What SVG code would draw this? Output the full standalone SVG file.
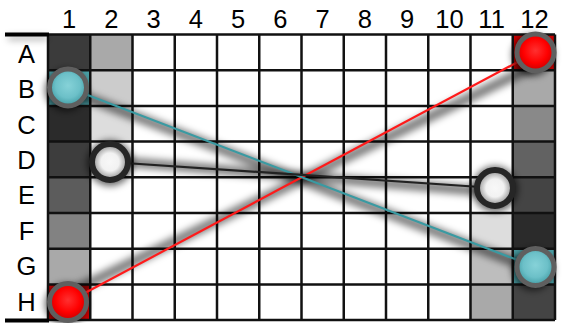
<svg xmlns="http://www.w3.org/2000/svg" width="562" height="323" viewBox="0 0 562 323">
<defs>
<style>
.lbl{font-family:"Liberation Sans",Arial,sans-serif;font-size:25.5px;fill:#000;text-anchor:middle}
.grid{fill:none;stroke:#111;stroke-width:2.5}
.sh{fill:none;stroke:#000;stroke-width:10;stroke-opacity:0.5;stroke-linecap:round}
.csh{fill:#000;fill-opacity:0.6}
.ring{stroke:#5f5f5f;stroke-width:5}
.wring{stroke:#262626;stroke-width:6}
.ln{fill:none;stroke-width:2.2}
</style>
<filter id="blur" filterUnits="userSpaceOnUse" x="0" y="0" width="562" height="323"><feGaussianBlur stdDeviation="3.5"/></filter>
<radialGradient id="gRed" cx="50%" cy="45%" r="55%"><stop offset="0" stop-color="#ff3030"/><stop offset="0.6" stop-color="#ff0000"/><stop offset="1" stop-color="#c80000"/></radialGradient>
<radialGradient id="gTeal" cx="50%" cy="45%" r="55%"><stop offset="0" stop-color="#86d2d8"/><stop offset="0.6" stop-color="#6cc0c8"/><stop offset="1" stop-color="#3f9aa2"/></radialGradient>
<radialGradient id="gWhite" cx="50%" cy="50%" r="50%"><stop offset="0" stop-color="#f8f8f8"/><stop offset="0.5" stop-color="#f2f2f2"/><stop offset="1" stop-color="#8a8a8a"/></radialGradient>
</defs>
<rect width="562" height="323" fill="#fff"/>
<g id="cells">
<rect x="48" y="34.5" width="42.25" height="35.7" fill="#3b3b3b"/>
<rect x="48" y="70.2" width="42.25" height="35.7" fill="#4a9ea4"/>
<rect x="48" y="105.9" width="42.25" height="35.7" fill="#2b2b2b"/>
<rect x="48" y="141.6" width="42.25" height="35.7" fill="#3d3d3d"/>
<rect x="48" y="177.3" width="42.25" height="35.7" fill="#5c5c5c"/>
<rect x="48" y="213" width="42.25" height="35.7" fill="#828282"/>
<rect x="48" y="248.7" width="42.25" height="35.7" fill="#a9a9a9"/>
<rect x="48" y="284.4" width="42.25" height="35.7" fill="#cc0000"/>
<rect x="90.25" y="34.5" width="42.25" height="35.7" fill="#a9a9a9"/>
<rect x="90.25" y="70.2" width="42.25" height="35.7" fill="#cccccc"/>
<rect x="90.25" y="105.9" width="42.25" height="35.7" fill="#dddddd"/>
<rect x="470.5" y="213" width="42.25" height="35.7" fill="#dddddd"/>
<rect x="470.5" y="248.7" width="42.25" height="35.7" fill="#bdbdbd"/>
<rect x="470.5" y="284.4" width="42.25" height="35.7" fill="#a9a9a9"/>
<rect x="512.75" y="34.5" width="42.25" height="35.7" fill="#cc0000"/>
<rect x="512.75" y="70.2" width="42.25" height="35.7" fill="#a9a9a9"/>
<rect x="512.75" y="105.9" width="42.25" height="35.7" fill="#898989"/>
<rect x="512.75" y="141.6" width="42.25" height="35.7" fill="#626262"/>
<rect x="512.75" y="177.3" width="42.25" height="35.7" fill="#444444"/>
<rect x="512.75" y="213" width="42.25" height="35.7" fill="#2b2b2b"/>
<rect x="512.75" y="248.7" width="42.25" height="35.7" fill="#4a9ea4"/>
<rect x="512.75" y="284.4" width="42.25" height="35.7" fill="#444444"/>
</g>
<g id="grid">
<path class="grid" d="M48 34.5V320.1M90.25 34.5V320.1M132.5 34.5V320.1M174.75 34.5V320.1M217 34.5V320.1M259.25 34.5V320.1M301.5 34.5V320.1M343.75 34.5V320.1M386 34.5V320.1M428.25 34.5V320.1M470.5 34.5V320.1M512.75 34.5V320.1M555 34.5V320.1M48 34.5H555M48 70.2H555M48 105.9H555M48 141.6H555M48 177.3H555M48 213H555M48 248.7H555M48 284.4H555M48 320.1H555"/>
<path d="M8 38H48" stroke="#000" stroke-width="4" stroke-opacity="0.35" filter="url(#blur)"/>
<path d="M5 34.5H49M5 320.5H49" stroke="#000" stroke-width="4"/>
</g>
<g id="labels">
<text class="lbl" x="69.1" y="28">1</text>
<text class="lbl" x="111.4" y="28">2</text>
<text class="lbl" x="153.6" y="28">3</text>
<text class="lbl" x="195.9" y="28">4</text>
<text class="lbl" x="238.1" y="28">5</text>
<text class="lbl" x="280.4" y="28">6</text>
<text class="lbl" x="322.6" y="28">7</text>
<text class="lbl" x="364.9" y="28">8</text>
<text class="lbl" x="407.1" y="28">9</text>
<text class="lbl" x="449.4" y="28">10</text>
<text class="lbl" x="491.6" y="28">11</text>
<text class="lbl" x="534.5" y="28">12</text>
<text class="lbl" x="26.5" y="63">A</text>
<text class="lbl" x="26.5" y="98">B</text>
<text class="lbl" x="26.5" y="133.5">C</text>
<text class="lbl" x="26.5" y="169">D</text>
<text class="lbl" x="26.5" y="204">E</text>
<text class="lbl" x="26.5" y="239.5">F</text>
<text class="lbl" x="26.5" y="275">G</text>
<text class="lbl" x="26.5" y="311">H</text>
</g>
<g id="connectors">
<g filter="url(#blur)">
<path class="sh" d="M75 290L530 68"/>
<path class="sh" d="M72 92L530 268"/>
<path class="sh" d="M114 161L492 192"/>
</g>
<path class="ln" stroke="#ff1a1a" d="M68 302L535.5 52.5"/>
<path class="ln" stroke="#3a9aa2" d="M68 87.5L535.5 267"/>
<path class="ln" stroke="#222" d="M110 162L495 188"/>
</g>
<g id="node-B1">
<circle class="csh" cx="66" cy="90" r="21" filter="url(#blur)"/>
<circle class="ring" cx="68" cy="87.5" r="18.5" fill="url(#gTeal)"/>
</g>
<g id="node-H1">
<circle class="csh" cx="66" cy="304" r="21" filter="url(#blur)"/>
<circle class="ring" cx="68" cy="302" r="18.5" fill="url(#gRed)"/>
</g>
<g id="node-A12">
<circle class="csh" cx="533" cy="55" r="21" filter="url(#blur)"/>
<circle class="ring" cx="535.5" cy="52.5" r="18.5" fill="url(#gRed)"/>
</g>
<g id="node-G12">
<circle class="csh" cx="533" cy="269.5" r="21" filter="url(#blur)"/>
<circle class="ring" cx="535.5" cy="267" r="18.5" fill="url(#gTeal)"/>
</g>
<g id="node-D2">
<circle class="csh" cx="110" cy="163" r="23" filter="url(#blur)"/>
<circle class="wring" cx="110" cy="162" r="18" fill="url(#gWhite)"/>
</g>
<g id="node-E11">
<circle class="csh" cx="495" cy="189" r="23" filter="url(#blur)"/>
<circle class="wring" cx="495" cy="188" r="18" fill="url(#gWhite)"/>
</g>
</svg>
